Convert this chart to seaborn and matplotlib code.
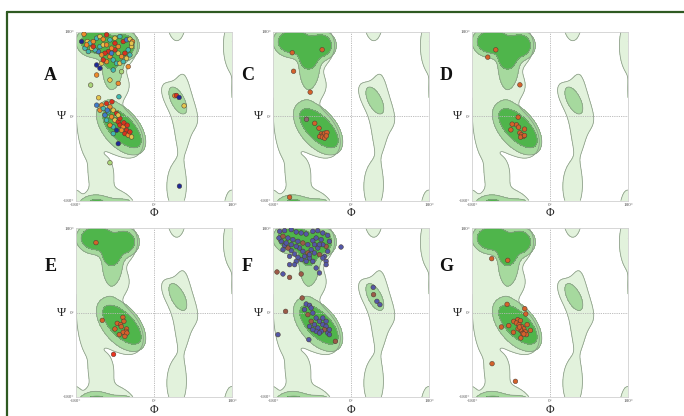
import numpy as np
import pandas as pd
import seaborn as sns
import matplotlib
matplotlib.use("Agg")
import matplotlib.pyplot as plt
from matplotlib.lines import Line2D

# ---- background regions of the Ramachandran plot: (phi, psi, semi_a, semi_b, angle) ----
light_blobs = [(-108, 150, 70, 56, 0), (-183, 150, 13, 42, 0), (-150, 5, 27, 95, 0),
               (-120, -122, 23, 28, 0), (-110, 62, 48, 30, 0), (-82, -32, 68, 44, -45),
               (58, 25, 55, 25, -50), (66, 5, 20, 82, 0), (52, -150, 22, 48, 0)]
medium_blobs = [(-135, 158, 45, 34, 0), (-66, 150, 32, 30, 0), (-96, 100, 22, 38, 0),
                (-76, -26, 70, 40, -45), (55, 33, 32, 15, -60)]
dark_blobs = [(-132, 158, 36, 24, 0), (-68, 150, 23, 22, 0), (-98, 122, 19, 22, 0),
              (-74, -26, 55, 26, -42)]
region_colors = ["#e2f2dc", "#a6d99e", "#4fb54b"]

# ---- residues ----
a_phi = [-161.6, -167, -153.9, -147.8, -140.1, -132.4, -124.7, -117.1, -109.4, -101.7, -90.2, -78.7,
         -71, -63.3, -55.6, -49.5, -51.8, -59.5, -67.2, -74.8, -82.5, -90.2, -97.9, -105.5, -113.2,
         -120.9, -128.6, -136.2, -143.9, -151.6, -159.3, -155.4, -140.1, -124.7, -117.1, -109.4,
         -101.7, -94, -109.4, -120.9, -132.4, -124.7, -117.1, -86.4, -78.7, -71, -63.3, -55.6,
         -132.4, -101.7, -82.5, -146.2, -94, -74.8, -59.5, -51.8, -90.2, -82.5, -97.9,
         -81, -127.8, -132.4, -120.9, -109.4, -101.7, -94, -86.4, -105.5, -113.2, -97.9, -90.2,
         -82.5, -78.7, -71, -63.3, -67.2, -59.5, -51.8, -55.6, -74.8, -86.4, -94, -101.7, -78.7,
         -82.5, -69.5, -61.8, -124.7, -117.1, -109.4, -97.1, -107.8, -82.5, -94,
         -101.7, 48, 51.8, 58, 69.5, 58.7]
a_psi = [174.3, 158.6, 158.6, 155, 158.6, 165.7, 169.3, 163.6, 172.9, 162.2, 165.7, 169.3,
         158.6, 162.2, 163.6, 158.6, 147.9, 140.8, 133.7, 126.5, 133.7, 140.8, 144.4, 137.2, 133.7,
         130.1, 137.2, 140.8, 144.4, 137.2, 144.4, 151.5, 147.9, 147.9, 151.5, 151.5,
         126.5, 119.4, 115.8, 112.3, 108.7, 101.6, 119.4, 112.3, 112.3, 115.8, 123, 130.1,
         87.3, 76.6, 69.5, 65.9, 98, 94.4, 105.1, 155, 155, 147.9, 133.7,
         41, 38.8, 23.1, 23.1, 26.7, 19.6, 12.4, 5.3, 8.9, 1.8, -1.8, -8.9,
         -12.5, -19.6, -23.2, -30.3, -37.5, -41, -44.6, -33.9, -30.3, -30.3, -23.2, -19.6, -5.4,
         1.8, -14.6, -19.6, 12.4, 16, -8.9, 30.3, 12.4, -58.9, -37.5,
         -99.5, 43.1, 43.8, 39.5, 21.7, -149.4]
a_score = list("onytotyortyt" "rbyoytroyrorr" "obtyttortyo" "otoynnrtytyt" "oyogtgoyrob"
               "tyboroyrtboy" "rrorroyrontor" "yrrottrbnt" "gornyn")
a_palette = {"r": "#d8321e", "o": "#ec8a2c", "y": "#e2c54e", "g": "#a9d67a",
             "t": "#3fb8b0", "b": "#3d7cc9", "n": "#1d2a96"}

c_phi = [-135.6, -66.6, -132.5, -94.2, -102.7, -83.7, -73.8, -68.3, -64.6, -60.8, -55.5, -72.2,
         -66.1, -60.8, -56.9, -141.7]
c_psi = [134.8, 141.2, 95.3, 50.8, -7, -15.5, -26, -38.1, -40.2, -36.7, -35.3, -43.8,
         -45.1, -47.2, -42.4, -173]

d_phi = [-125.2, -143.7, -69.5, -73.4, -87.3, -77.3, -72.6, -90.4, -58.7, -69.5, -65.7, -61.8,
         -68, -58.7]
d_psi = [141, 125.3, 66.4, -2.5, -17.4, -18.8, -23.8, -29.5, -28, -35.8, -40.1, -43.7, -45, -41.5]

e_phi = [-133.9, -119.4, -71.8, -69.5, -84.8, -77.1, -75.6, -90.2, -63.3, -64.9, -71, -62.6,
         -80.2, -67.2, -93.3]
e_psi = [148.8, -16.7, -10.3, -18.8, -23.1, -25.9, -30.2, -35.1, -35.1, -40.1, -42.2, -43.7,
         -47.2, -50.8, -89.1]

f_phi = [-164.7, -153.2, -137.9, -126.4, -114.9, -103.4, -88.1, -76.6, -65.1, -53.6, -49.8, -57.4,
         -53.6, -61.3, -57.4, -65.1, -72.8, -76.6, -84.3, -91.9, -99.6, -107.2, -114.9, -122.5,
         -130.2, -137.9, -145.5, -153.2, -160.9, -166.2, -157, -145.5, -134, -122.5, -111.1, -99.6,
         -88.1, -80.4, -68.9, -65.1, -72.8, -95.7, -88.1, -103.4, -111.1, -118.7, -126.4, -137.9,
         -149.4, -157, -141.7, -126.4, -95.7, -84.3, -141.7, -130.2, -80.4, -72.8, -57.4, -23,
         -114.9, -141.7, -157, -170.8, -150.9, -168.5,
         -112.6, -103.4, -95.7, -91.9, -107.2, -88.1, -99.6, -80.4, -72.8, -65.1, -57.4, -61.3,
         -68.9, -76.6, -84.3, -91.9, -95.7, -80.4, -53.6, -49.8, -72.8, -88.1, -97.3, -36, -57.4,
         -65.1, -49.8, 51.3, 52.1, 59.8, 66.7]
f_psi = [172.9, 174.3, 176.5, 171.5, 169.4, 167.2, 172.9, 174.3, 169.4, 164.4, 151.6, 141,
         130.3, 119.7, 109, 116.1, 123.2, 137.4, 144.5, 133.9, 126.8, 119.7, 112.6, 117.5,
         124.6, 131.7, 137.4, 143.1, 151.6, 158.7, 162.3, 158.7, 155.2, 151.6, 148, 144.5,
         153, 158.7, 155.2, 144.5, 144.5, 116.1, 109, 109, 130.3, 137.4, 141, 144.5,
         148, 133.9, 119.7, 109, 123.2, 126.8, 101.9, 101.9, 94.8, 84.2, 101.9, 139.5,
         82, 74.9, 82, 86.3, 2.5, -47.2,
         30.9, 18.1, 15.3, 9.6, 6.1, -1.1, -4.6, -11.7, -18.8, -25.9, -29.5, -36.6,
         -40.1, -33, -25.9, -18.8, -29.5, -40.1, -43.7, -36.6, -43.7, -36.6, -57.9, -61.4, -18.8,
         -11.7, -47.2, 53.6, 38, 23.8, 16.7]
f_kind = list("bbbbbbbbbbbr" "bbbbrbbbrbbb" "bbrbbbrbbbrb" "bbbbbbbbbbbb" "bbbbbbbbbbbb"
              "rrbrrb" "rbbbbbrbbbbr" "bbbrbbbbbbbrb" "bbbrbb")
f_palette = {"b": "#5357a6", "r": "#9c5a48"}

g_phi = [-134.5, -97.5, -99, -58.2, -55.9, -112.2, -95.2, -84.4, -83.6, -74.4, -68.2, -77.5,
         -71.3, -65.1, -52.8, -60.5, -66.7, -56.7, -62.8, -68.2, -73.6, -45.1, -54.3, -67.4,
         -60.5, -70.5, -133.7, -79.8]
g_psi = [114.7, 111.1, 17.4, 8.2, -3.2, -30.9, -28, -42.2, -18.8, -15.3, -17.4, -22.4,
         -25.9, -30.2, -25.9, -35.1, -38.7, -41.5, -44.4, -36.6, -34.4, -38, -47.2, -54.3,
         -45.8, -30.9, -109, -146.6]

orange_pt = "#d4612b"

panels = [
    ("A", 76, 31.5, pd.DataFrame({"phi": a_phi, "psi": a_psi, "k": a_score}), a_palette),
    ("C", 273, 31.5, pd.DataFrame({"phi": c_phi, "psi": c_psi,
                                   "k": ["o"] * 4 + ["p"] + ["o"] * 11}),
     {"o": orange_pt, "p": "#8c6a72"}),
    ("D", 472, 31.5, pd.DataFrame({"phi": d_phi, "psi": d_psi, "k": ["o"] * len(d_phi)}),
     {"o": orange_pt}),
    ("E", 76, 228, pd.DataFrame({"phi": e_phi, "psi": e_psi,
                                 "k": ["o"] * 14 + ["x"]}), {"o": orange_pt, "x": "#ea3320"}),
    ("F", 273, 228, pd.DataFrame({"phi": f_phi, "psi": f_psi, "k": f_kind}), f_palette),
    ("G", 472, 228, pd.DataFrame({"phi": g_phi, "psi": g_psi, "k": ["o"] * len(g_phi)}),
     {"o": orange_pt}),
]

sns.set_theme(style="white")
plt.rcParams["font.family"] = ["Liberation Serif", "DejaVu Serif"]

grid = np.linspace(-180, 180, 361)
P, S = np.meshgrid(grid, grid)


def field(blobs):
    f = np.zeros_like(P)
    for cx, cy, a, b, ang in blobs:
        t = np.deg2rad(ang)
        for ox in (-360, 0, 360):
            for oy in (-360, 0, 360):
                dx = P - cx - ox
                dy = S - cy - oy
                u = dx * np.cos(t) + dy * np.sin(t)
                v = -dx * np.sin(t) + dy * np.cos(t)
                f += np.exp(-((u / a) ** 2 + (v / b) ** 2))
    return f


fields = [field(light_blobs), field(medium_blobs), field(dark_blobs)]
thr = np.exp(-1)

W, H = 684, 416
fig = plt.figure(figsize=(W / 100, H / 100), dpi=100)
fig.patch.set_facecolor("white")

for letter, left, top, df, pal in panels:
    ax = fig.add_axes([left / W, 1 - (top + 169) / H, 156 / W, 169 / H])
    for fld, col in zip(fields, region_colors):
        ax.contourf(P, S, fld, levels=[thr, 1e6], colors=[col])
        ax.contour(P, S, fld, levels=[thr], colors="#8a9a87", linewidths=0.55)
    ax.axhline(0, color="#b5b5b5", lw=0.6, ls=(0, (1.5, 1.2)))
    ax.axvline(0, color="#b5b5b5", lw=0.6, ls=(0, (1.5, 1.2)))
    sns.scatterplot(data=df, x="phi", y="psi", hue="k", palette=pal, s=11,
                    edgecolor="#4a3a30", linewidth=0.35, legend=False, ax=ax, zorder=5)
    ax.set_xlim(-180, 180)
    ax.set_ylim(-180, 180)
    ax.set_xticks([-180, 0, 180])
    ax.set_yticks([-180, 0, 180])
    ax.set_xticklabels(["-180°", "0°", "180°"])
    ax.set_yticklabels(["-180°", "0°", "180°"])
    ax.tick_params(length=0, pad=1.5, labelsize=3.6, labelcolor="#555555")
    ax.set_xlabel("")
    ax.set_ylabel("")
    for sp in ax.spines.values():
        sp.set_color("#d0d0d0")
        sp.set_linewidth(0.6)
    ax.text(-0.093, 0.5, "Ψ", transform=ax.transAxes, ha="center", va="center",
            fontsize=9, color="#222222")
    ax.text(0.5, -0.075, "Φ", transform=ax.transAxes, ha="center", va="center",
            fontsize=8.5, color="#222222")
    ly = 0.74 if top < 100 else 0.775
    ax.text(-0.165, ly, letter, transform=ax.transAxes, ha="center", va="center",
            fontsize=13, fontweight="bold", color="#111111")

# dark green frame
fcol = "#2f5a22"
fig.add_artist(Line2D([7 / W, 1], [1 - 12 / H, 1 - 12 / H], transform=fig.transFigure,
                      color=fcol, lw=1.6))
fig.add_artist(Line2D([7 / W, 7 / W], [0, 1 - 12 / H], transform=fig.transFigure,
                      color=fcol, lw=1.6))

fig.savefig("out.png", dpi=100)
